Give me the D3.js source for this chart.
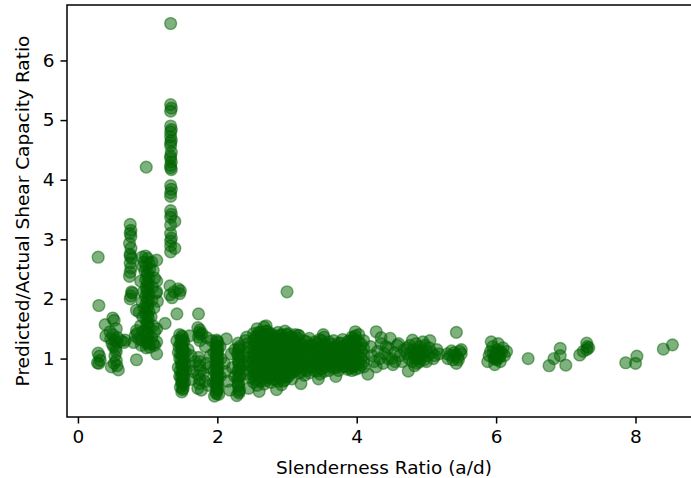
<!DOCTYPE html>
<html>
<head>
<meta charset="utf-8">
<script src="https://cdn.jsdelivr.net/npm/d3@7"></script>
<style>
  body { margin: 0; background: #fff; }
  svg { display: block; font-family: "DejaVu Sans", sans-serif; }
</style>
</head>
<body>
<svg id="chart"></svg>
<script>
// [a/d, predicted/actual], grouped by region
var shortSpan = [
  [0.29,2.70],[0.30,1.89],[0.29,1.09],[0.31,1.04],[0.28,0.93],[0.30,0.92],[0.32,0.97],
  [0.39,1.57],[0.40,1.38],[0.46,1.45],[0.50,1.68],[0.52,1.64],[0.55,1.50],[0.50,1.40],
  [0.53,1.31],[0.56,1.27],[0.49,1.25],[0.54,1.17],[0.55,1.12],[0.53,1.05],[0.55,0.97],
  [0.52,0.92],[0.48,0.86],[0.58,0.81],[0.56,0.88],[0.51,1.20],[0.57,1.35],[0.66,1.27],
  [0.68,1.31],[0.62,1.30],[0.47,1.33]
];
var deepBeams = [
  [0.75,3.25],[0.76,3.15],[0.75,3.10],[0.76,3.05],[0.74,2.93],[0.76,2.85],[0.75,2.75],
  [0.75,2.72],[0.77,2.68],[0.75,2.60],[0.76,2.52],[0.75,2.45],[0.74,2.38],[0.77,2.12],
  [0.76,2.05],[0.75,2.00],[0.78,2.10],[0.84,1.81],[0.88,1.78],[0.84,1.47],[0.85,1.42],
  [0.82,1.38],[0.84,0.98],[0.80,1.27],[0.87,1.33],[0.91,1.31],[0.91,1.22],
  [0.97,2.72],[1.00,2.68],[0.95,2.62],[1.02,2.60],[0.98,2.55],[1.03,2.50],[0.96,2.47],
  [1.00,2.44],[0.99,2.40],[1.02,2.36],[0.97,2.32],[1.00,2.28],[1.01,2.24],[0.98,2.20],
  [1.00,2.16],[0.99,2.12],[1.02,2.08],[0.97,2.04],[1.00,2.00],[1.01,1.96],[0.98,1.92],
  [1.00,1.88],[0.99,1.84],[1.02,1.80],[0.97,1.76],[1.00,1.72],[1.01,1.68],[0.98,1.64],
  [1.00,1.60],[0.99,1.56],[1.02,1.52],[0.97,1.48],[1.00,1.44],[1.01,1.40],[0.98,1.36],
  [1.00,1.32],[0.99,1.28],[1.02,1.24],[1.03,1.19],[0.98,1.18],
  [0.92,2.70],[0.93,2.55],[0.90,2.30],[0.94,2.12],[0.92,1.95],[0.95,1.85],[0.93,1.70],
  [0.90,1.55],[0.93,1.45],[1.06,2.62],[1.08,2.48],[1.10,2.35],[1.07,2.20],[1.12,2.10],
  [1.06,1.98],[1.09,1.85],[1.05,1.70],[1.08,1.55],[1.10,1.45],[1.06,1.35],[1.13,2.65],
  [1.13,2.30],[1.13,2.12],[1.14,1.96],[1.13,1.50],[1.13,1.28],[1.10,1.22],[1.13,1.08],
  [1.08,1.25],[0.98,1.26],[0.98,4.21]
];
var spikeColumn = [
  [1.33,6.62],[1.33,5.26],[1.34,5.20],[1.33,5.15],[1.33,4.90],[1.34,4.84],[1.33,4.80],
  [1.33,4.72],[1.34,4.66],[1.33,4.62],[1.33,4.57],[1.34,4.46],[1.33,4.40],[1.33,4.36],
  [1.34,4.30],[1.33,4.24],[1.33,4.20],[1.34,4.17],[1.33,3.90],[1.34,3.84],[1.33,3.78],
  [1.33,3.72],[1.33,3.48],[1.34,3.42],[1.33,3.37],[1.39,3.30],[1.33,3.24],[1.33,3.10],
  [1.34,3.02],[1.33,2.97],[1.33,2.89],[1.39,2.85],[1.33,2.79],
  [1.32,2.22],[1.44,2.17],[1.46,2.09],[1.32,2.07],[1.38,2.12],[1.35,2.02],[1.47,2.14],
  [1.25,1.59],[1.42,1.75]
];
var transition = [
  [1.46,1.40],[1.50,1.36],[1.48,1.32],[1.52,1.28],[1.47,1.24],[1.50,1.20],[1.49,1.16],
  [1.51,1.12],[1.47,1.08],[1.50,1.04],[1.52,1.00],[1.48,0.96],[1.50,0.92],[1.49,0.88],
  [1.51,0.84],[1.47,0.80],[1.50,0.76],[1.52,0.72],[1.48,0.68],[1.50,0.64],[1.49,0.60],
  [1.51,0.56],[1.47,0.52],[1.50,0.48],[1.49,0.44],[1.46,1.00],[1.53,0.90],[1.46,0.70],
  [1.53,0.60],[1.45,1.20],[1.54,1.10],[1.44,0.85],[1.55,0.80],[1.42,1.30],[1.44,1.10],
  [1.49,1.38],[1.51,1.30],[1.49,1.22],[1.51,1.14],[1.49,1.06],[1.51,0.98],[1.49,0.90],
  [1.51,0.82],[1.49,0.74],[1.51,0.66],[1.49,0.58],[1.51,0.50],
  [1.60,1.38],[1.62,1.05],[1.60,0.88],[1.65,0.78],[1.63,0.65],[1.58,1.15],[1.68,0.95],
  [1.73,1.75],[1.72,1.52],[1.75,1.48],[1.74,1.44],[1.76,1.40],[1.73,1.36],[1.78,1.42],
  [1.75,1.30],[1.73,1.02],[1.75,0.95],[1.74,0.88],[1.76,0.80],[1.73,0.72],[1.75,0.65],
  [1.74,0.58],[1.72,0.50],[1.77,0.47],[1.80,0.75],[1.82,0.62],[1.85,0.92],[1.83,1.20],
  [1.88,0.85],[1.87,0.55],[1.90,1.05],[1.92,1.30],[1.85,1.35],
  [1.99,1.31],[2.00,1.27],[1.98,1.23],[2.01,1.19],[1.99,1.15],[2.00,1.11],[1.98,1.07],
  [2.01,1.03],[1.99,0.99],[2.00,0.95],[1.98,0.91],[2.01,0.87],[1.99,0.83],[2.00,0.79],
  [1.98,0.75],[2.01,0.71],[1.99,0.67],[2.00,0.63],[1.98,0.59],[2.01,0.55],[1.99,0.51],
  [2.00,0.47],[1.98,0.43],[1.96,0.37],[2.02,0.40],[1.95,0.80],[2.04,0.70],[1.94,0.60],
  [2.05,1.00],[1.95,1.10],[2.04,1.20],
  [2.00,1.29],[1.99,1.21],[2.00,1.13],[1.99,1.05],[2.00,0.97],[1.99,0.89],[2.00,0.81],
  [1.99,0.73],[2.00,0.65],[1.99,0.57],[2.00,0.49],[1.99,0.41],
  [2.13,1.33],[2.10,0.92],[2.12,0.78],[2.15,0.62],[2.18,0.47],[2.20,1.08],[2.22,0.85],
  [2.25,0.70],[2.25,1.15],
  [2.30,1.26],[2.32,1.20],[2.31,1.14],[2.29,1.08],[2.32,1.02],[2.30,0.96],[2.31,0.90],
  [2.33,0.84],[2.30,0.78],[2.32,0.72],[2.29,0.66],[2.31,0.60],[2.30,0.54],[2.32,0.48],
  [2.31,0.42],[2.28,0.38],
  [2.31,1.17],[2.30,1.05],[2.31,0.93],[2.30,0.81],[2.31,0.69],[2.30,0.57],[2.31,0.45],
  [2.40,1.30],[2.42,1.36],[2.44,1.25],[2.45,1.18],[2.43,1.10],[2.46,1.02],[2.44,0.95],
  [2.47,0.88],[2.45,0.80],[2.42,0.75],[2.48,0.68],[2.38,0.90],[2.38,1.05]
];
var mainBand = [
  [2.52,1.42],[2.52,1.30],[2.52,1.18],[2.52,1.06],[2.52,0.94],[2.52,0.82],[2.52,0.70],[2.52,0.60],
  [2.57,1.50],[2.57,1.38],[2.57,1.26],[2.57,1.14],[2.57,1.02],[2.57,0.90],[2.57,0.78],[2.57,0.66],[2.57,0.55],
  [2.62,1.44],[2.62,1.32],[2.62,1.20],[2.62,1.08],[2.62,0.96],[2.62,0.84],[2.62,0.72],[2.62,0.62],
  [2.67,1.53],[2.67,1.40],[2.67,1.28],[2.67,1.16],[2.67,1.04],[2.67,0.92],[2.67,0.80],[2.67,0.68],[2.67,0.57],
  [2.72,1.46],[2.72,1.34],[2.72,1.22],[2.72,1.10],[2.72,0.98],[2.72,0.86],[2.72,0.74],
  [2.77,1.42],[2.77,1.30],[2.77,1.18],[2.77,1.06],[2.77,0.94],[2.77,0.82],[2.77,0.70],[2.77,0.60],
  [2.82,1.38],[2.82,1.26],[2.82,1.14],[2.82,1.02],[2.82,0.90],[2.82,0.78],[2.82,0.66],
  [2.87,1.44],[2.87,1.32],[2.87,1.20],[2.87,1.08],[2.87,0.96],[2.87,0.84],[2.87,0.72],[2.87,0.62],
  [2.92,1.40],[2.92,1.28],[2.92,1.16],[2.92,1.04],[2.92,0.92],[2.92,0.80],[2.92,0.68],[2.92,0.56],
  [2.97,1.46],[2.97,1.34],[2.97,1.22],[2.97,1.10],[2.97,0.98],[2.97,0.86],[2.97,0.74],[2.97,0.64],
  [3.02,1.42],[3.02,1.30],[3.02,1.18],[3.02,1.06],[3.02,0.94],[3.02,0.82],[3.02,0.70],
  [3.07,1.36],[3.07,1.24],[3.07,1.12],[3.07,1.00],[3.07,0.88],[3.07,0.76],[3.07,0.66],
  [3.12,1.40],[3.12,1.28],[3.12,1.16],[3.12,1.04],[3.12,0.92],[3.12,0.80],
  [3.17,1.39],[3.17,1.24],[3.17,1.12],[3.17,1.00],[3.17,0.88],[3.17,0.76],
  [3.25,1.30],[3.25,1.18],[3.25,1.06],[3.25,0.94],[3.25,0.82],[3.25,0.72],
  [3.32,1.34],[3.32,1.22],[3.32,1.10],[3.32,0.98],[3.32,0.86],[3.32,0.76],
  [3.40,1.28],[3.40,1.16],[3.40,1.04],[3.40,0.92],[3.40,0.80],
  [3.47,1.32],[3.47,1.20],[3.47,1.08],[3.47,0.96],[3.47,0.84],[3.47,0.74],
  [3.53,1.36],[3.53,1.24],[3.53,1.12],[3.53,1.00],[3.53,0.88],[3.53,0.78],
  [3.60,1.28],[3.60,1.16],[3.60,1.04],[3.60,0.92],[3.60,0.80],
  [3.67,1.30],[3.67,1.18],[3.67,1.06],[3.67,0.94],[3.67,0.84],
  [3.74,1.26],[3.74,1.14],[3.74,1.02],[3.74,0.90],[3.74,0.80],
  [3.80,1.32],[3.80,1.20],[3.80,1.08],[3.80,0.96],[3.80,0.86],
  [3.87,1.28],[3.87,1.16],[3.87,1.04],[3.87,0.92],[3.87,0.82],
  [3.93,1.36],[3.93,1.24],[3.93,1.12],[3.93,1.00],[3.93,0.88],[3.93,0.80],
  [3.98,1.45],[3.98,1.38],[3.98,1.30],[3.98,1.20],[3.98,1.10],[3.98,1.00],[3.98,0.90],[3.98,0.82],
  [4.03,1.40],[4.03,1.28],[4.03,1.16],[4.03,1.04],[4.03,0.92],[4.03,0.84],
  [4.10,1.30],[4.10,1.18],[4.10,1.06],[4.10,0.94],[4.10,0.86],
  [3.00,2.12],[2.45,0.50],[2.60,0.45],[2.85,0.48],[3.20,0.58],[3.45,0.66],[3.70,0.70],
  [3.52,1.40],[3.16,1.39],[2.70,1.55]
];
var mainBandCore = [
  [2.545,1.36],[2.545,1.24],[2.545,1.12],[2.545,1.00],[2.545,0.88],[2.545,0.76],[2.545,0.64],
  [2.595,1.44],[2.595,1.32],[2.595,1.20],[2.595,1.08],[2.595,0.96],[2.595,0.84],[2.595,0.72],
  [2.645,1.38],[2.645,1.26],[2.645,1.14],[2.645,1.02],[2.645,0.90],[2.645,0.78],[2.645,0.66],
  [2.695,1.46],[2.695,1.34],[2.695,1.22],[2.695,1.10],[2.695,0.98],[2.695,0.86],[2.695,0.74],[2.695,0.63],
  [2.745,1.40],[2.745,1.28],[2.745,1.16],[2.745,1.04],[2.745,0.92],[2.745,0.80],[2.745,0.68],
  [2.795,1.36],[2.795,1.24],[2.795,1.12],[2.795,1.00],[2.795,0.88],[2.795,0.76],[2.795,0.65],
  [2.845,1.32],[2.845,1.20],[2.845,1.08],[2.845,0.96],[2.845,0.84],[2.845,0.72],
  [2.895,1.38],[2.895,1.26],[2.895,1.14],[2.895,1.02],[2.895,0.90],[2.895,0.78],[2.895,0.67],
  [2.945,1.34],[2.945,1.22],[2.945,1.10],[2.945,0.98],[2.945,0.86],[2.945,0.74],[2.945,0.62],
  [2.995,1.40],[2.995,1.28],[2.995,1.16],[2.995,1.04],[2.995,0.92],[2.995,0.80],[2.995,0.69],
  [3.045,1.36],[3.045,1.24],[3.045,1.12],[3.045,1.00],[3.045,0.88],[3.045,0.76],
  [3.095,1.30],[3.095,1.18],[3.095,1.06],[3.095,0.94],[3.095,0.82],
  [3.145,1.34],[3.145,1.22],[3.145,1.10],[3.145,0.98],[3.145,0.86],
  [3.21,1.24],[3.21,1.12],[3.21,1.00],[3.21,0.88],[3.21,0.78],
  [3.285,1.28],[3.285,1.16],[3.285,1.04],[3.285,0.92],[3.285,0.80],
  [3.36,1.22],[3.36,1.10],[3.36,0.98],[3.36,0.86],
  [3.435,1.26],[3.435,1.14],[3.435,1.02],[3.435,0.90],[3.435,0.79],
  [3.50,1.30],[3.50,1.18],[3.50,1.06],[3.50,0.94],[3.50,0.83],
  [3.565,1.22],[3.565,1.10],[3.565,0.98],[3.565,0.86],
  [3.635,1.24],[3.635,1.12],[3.635,1.00],[3.635,0.88],
  [3.705,1.20],[3.705,1.08],[3.705,0.96],[3.705,0.85],
  [3.77,1.26],[3.77,1.14],[3.77,1.02],[3.77,0.91],
  [3.835,1.22],[3.835,1.10],[3.835,0.98],[3.835,0.87],
  [3.90,1.30],[3.90,1.18],[3.90,1.06],[3.90,0.94],[3.90,0.84],
  [3.955,1.34],[3.955,1.25],[3.955,1.15],[3.955,1.05],[3.955,0.95],[3.955,0.86],
  [4.065,1.24],[4.065,1.12],[4.065,1.00],[4.065,0.90]
];
var slender = [
  [4.16,0.74],[4.28,0.86],[4.28,1.45],[4.20,1.20],[4.22,1.05],[4.25,0.95],[4.30,1.12],
  [4.33,1.00],[4.35,1.25],[4.38,0.92],[4.40,1.08],[4.45,1.18],[4.48,1.34],[4.50,1.00],
  [4.52,0.90],[4.55,1.10],[4.58,1.22],[4.62,1.05],[4.65,0.95],[4.68,1.15],[4.72,1.08],
  [4.74,0.79],[4.76,1.22],[4.80,1.31],[4.81,1.15],[4.82,1.05],[4.80,0.95],[4.83,0.88],
  [4.85,1.10],[4.88,1.00],[4.90,1.20],[4.92,1.08],[4.95,1.28],[4.97,0.98],[5.00,1.12],
  [5.02,1.05],[5.05,1.30],[5.08,1.10],[5.12,1.05],
  [4.35,1.35],[4.42,1.20],[4.45,1.00],[4.55,0.95],[4.60,1.25],[4.72,1.18],[4.75,1.00],
  [4.78,1.10],[4.85,1.25],[4.87,0.92],[4.90,1.05],[4.93,1.15],[4.98,1.22],[5.00,0.95],
  [5.04,1.18],[5.10,1.00],[5.15,1.15],[5.18,1.08],
  [4.85,1.05],[4.88,1.12],[4.92,1.00],[4.95,1.10],[4.83,1.00],[4.90,0.95],
  [5.31,1.00],[5.35,1.05],[5.40,1.10],[5.43,1.44],[5.43,0.92],[5.45,1.02],[5.48,1.12],
  [5.50,1.08],[5.38,0.98],[5.30,1.08],[5.36,1.13],[5.42,1.06],[5.46,0.98],[5.50,1.15],
  [5.88,0.95],[5.90,1.05],[5.92,1.12],[5.95,1.20],[5.97,1.00],[5.98,0.90],[6.00,1.08],
  [6.02,1.15],[6.03,1.25],[6.05,1.02],[6.06,0.95],[6.08,1.10],[6.10,1.18],[6.12,1.05],
  [6.15,1.12],[5.93,1.28],[6.00,1.00],[6.04,1.06],[5.96,1.10],
  [6.00,1.05],[6.02,1.10],[5.98,1.02],[6.05,1.12],[6.01,0.98],
  [6.46,1.00],[6.76,0.88],[6.83,1.00],[6.92,1.17],[6.92,1.05],[7.00,0.89],[7.20,1.06],
  [7.25,1.12],[7.30,1.26],[7.31,1.20],[7.30,1.15],[7.33,1.18],[7.86,0.93],[8.00,0.92],
  [8.02,1.04],[8.40,1.16],[8.53,1.23]
];

var xTicks = [0, 2, 4, 6, 8];
var yTicks = [1, 2, 3, 4, 5, 6];
var xLabel = "Slenderness Ratio (a/d)";
var yLabel = "Predicted/Actual Shear Capacity Ratio";

var W = 691, H = 478;
var plot = {left: 67, right: 701, top: 5, bottom: 417};
var fontSize = "18.5px";

var svg = d3.select("#chart").attr("width", W).attr("height", H);

var xScale = d3.scaleLinear().domain([-0.157, 8.94]).range([plot.left, plot.right]);
var yScale = d3.scaleLinear().domain([0.02, 6.93]).range([plot.bottom, plot.top]);

var allPoints = shortSpan.concat(deepBeams, spikeColumn, transition, mainBand, mainBandCore, slender);

svg.append("g")
    .selectAll("circle")
    .data(allPoints)
    .enter()
    .append("circle")
    .attr("cx", function(d) { return xScale(d[0]); })
    .attr("cy", function(d) { return yScale(d[1]); })
    .attr("r", 5.9)
    .attr("fill", "#006400")
    .attr("fill-opacity", 0.5)
    .attr("stroke", "#006400")
    .attr("stroke-opacity", 0.5)
    .attr("stroke-width", 1.4);

// frame (right side falls outside the picture)
svg.append("rect")
    .attr("x", plot.left)
    .attr("y", plot.top)
    .attr("width", plot.right - plot.left)
    .attr("height", plot.bottom - plot.top)
    .attr("fill", "none")
    .attr("stroke", "#000")
    .attr("stroke-width", 1.5);

var xAxis = d3.axisBottom(xScale).tickValues(xTicks).tickFormat(d3.format("d"))
    .tickSize(6.5).tickPadding(6).tickSizeOuter(0);
var yAxis = d3.axisLeft(yScale).tickValues(yTicks).tickFormat(d3.format("d"))
    .tickSize(6.5).tickPadding(6).tickSizeOuter(0);

var gx = svg.append("g")
    .attr("transform", "translate(0," + plot.bottom + ")")
    .call(xAxis);
var gy = svg.append("g")
    .attr("transform", "translate(" + plot.left + ",0)")
    .call(yAxis);

[gx, gy].forEach(function(g) {
    g.select(".domain").remove();
    g.selectAll(".tick line").attr("stroke", "#000").attr("stroke-width", 1.5);
    g.selectAll(".tick text")
        .attr("fill", "#000")
        .style("font-family", "DejaVu Sans")
        .style("font-size", fontSize);
});

svg.append("text")
    .attr("x", (plot.left + plot.right) / 2)
    .attr("y", 474)
    .attr("text-anchor", "middle")
    .style("font-size", fontSize)
    .text(xLabel);

svg.append("text")
    .attr("transform", "translate(28.5," + ((plot.top + plot.bottom) / 2) + ") rotate(-90)")
    .attr("text-anchor", "middle")
    .style("font-size", fontSize)
    .text(yLabel);
</script>
</body>
</html>
